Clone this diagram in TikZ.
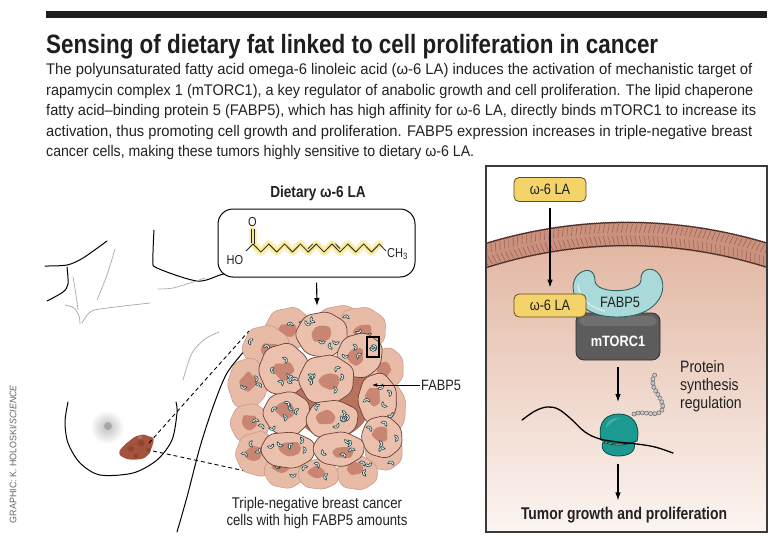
\documentclass[tikz,border=0pt]{standalone}
\usepackage{fontspec}
\setmainfont{Liberation Sans}
\newfontfamily\cond{Liberation Sans}[FakeStretch=0.85]
\usepackage{graphicx}
\usetikzlibrary{arrows.meta,decorations.pathmorphing,decorations.markings}

\definecolor{barc}{HTML}{1E1E1E}
\definecolor{txtc}{HTML}{222222}
\definecolor{panelc}{HTML}{3A3A3A}
\definecolor{membc}{HTML}{C9917E}
\definecolor{memedge}{HTML}{4A2C24}
\definecolor{stripec}{HTML}{A0604F}
\definecolor{cellTop}{HTML}{E2B7A3}
\definecolor{cellBot}{HTML}{FCF5F1}
\definecolor{yelc}{HTML}{F3D36A}
\definecolor{yeledge}{HTML}{5E4E1C}
\definecolor{fabc}{HTML}{A9DAD9}
\definecolor{fabedge}{HTML}{2F5F60}
\definecolor{mtorc}{HTML}{5C5C5C}
\definecolor{mtoredge}{HTML}{2E2E2E}
\definecolor{riboc}{HTML}{1A9A90}
\definecolor{riboedge}{HTML}{0B4A45}
\definecolor{beadc}{HTML}{C8C8C8}
\definecolor{cellOut}{HTML}{E8BBA7}
\definecolor{cellOutEdge}{HTML}{C49486}
\definecolor{cellIn}{HTML}{EBC0AC}
\definecolor{cellInEdge}{HTML}{6A4238}
\definecolor{nucc}{HTML}{C47C68}
\definecolor{backc}{HTML}{B8735F}
\definecolor{crc}{HTML}{DDF0F0}
\definecolor{credge}{HTML}{2A4647}
\definecolor{tumc}{HTML}{A4533F}
\definecolor{tumdark}{HTML}{7E3626}
\definecolor{glowc}{HTML}{F6E27A}
\definecolor{greyl}{HTML}{A8A8A8}

\newcommand\bl[2]{\resizebox{#1}{\height}{\fontsize{15.4}{18}\selectfont #2}}

\newcommand\tcell[7]{%
  \pgfmathsetseed{#6}%
  \draw[#5] plot[sharp cycle, samples=7, domain=0:308.5714] ({#1+0.67*#3*cos(\x+25)*(0.93+0.14*rnd)},{#2+0.67*#4*sin(\x+25)*(0.93+0.14*rnd)});
  \pgfmathsetmacro\nx{#1+(rnd-0.5)*0.3*#3}%
  \pgfmathsetmacro\ny{#2+(rnd-0.5)*0.3*#4}%
  \fill[nucc, opacity=0.85] plot[smooth cycle, samples=8, domain=0:315] ({\nx+0.23*#3*cos(\x)*(0.75+0.5*rnd)},{\ny+0.23*#4*sin(\x)*(0.75+0.5*rnd)});
  \foreach \k in {1,...,#7}{%
    \pgfmathsetmacro\px{#1+(rnd-0.5)*0.82*#3}%
    \pgfmathsetmacro\py{#2+(rnd-0.5)*0.82*#4}%
    \pgfmathsetmacro\pa{rnd*360}%
    \pic[rotate=\pa] at (\px,\py) {fab};
  }%
}

\begin{document}
\begin{tikzpicture}[x=1pt,y=-1pt,
  every node/.style={text=txtc, font=\cond\fontsize{15}{18}\selectfont},
  arr/.style={draw=black, line width=1.1pt, -{Latex[length=8pt,width=5.5pt]}},
  thinarr/.style={draw=black, line width=0.7pt, -{Latex[length=5pt,width=3.5pt]}},
  lbox/.style={draw=yeledge, fill=yelc, line width=0.8pt, rounded corners=5pt, minimum width=72pt, minimum height=24pt, inner sep=0pt},
  bodyline/.style={draw=black, line width=1pt, line cap=round},
  greyline/.style={draw=greyl, line width=0.7pt, line cap=round},
  outcell/.style={fill=cellOut, draw=cellOutEdge, line width=0.5pt, rounded corners=5pt},
  incell/.style={fill=cellIn, draw=cellInEdge, line width=0.7pt, rounded corners=6pt},
  fab/.pic={\draw[fill=crc, draw=credge, line width=0.6pt] (3.3pt,0pt) arc[start angle=0,end angle=180,radius=3.3pt] -- (-1.5pt,0pt) arc[start angle=180,end angle=0,radius=1.5pt] -- cycle;},
  ribo/.style={fill=riboc, draw=riboedge, line width=0.8pt}
]
\useasboundingbox (0,0) rectangle (781,547);
\fill[white] (0,0) rectangle (781,547);

% ---------- header ----------
\fill[barc] (46,11) rectangle (767,18);
\node[anchor=base west, inner sep=0pt, text=barc] (title) at (46,53)
  {\resizebox{612pt}{\height}{\fontsize{26.5}{30}\selectfont\bfseries Sensing of dietary fat linked to cell proliferation in cancer}};
\node[anchor=base west, inner sep=0pt] (b1) at (46,74.5) {\bl{706pt}{The polyunsaturated fatty acid omega-6 linoleic acid (ω-6 LA) induces the activation of mechanistic target of}};
\node[anchor=base west, inner sep=0pt] (b2) at (46,95) {\bl{707pt}{rapamycin complex 1 (mTORC1), a key regulator of anabolic growth and cell proliferation. The lipid chaperone}};
\node[anchor=base west, inner sep=0pt] (b3) at (46,115.5) {\bl{710pt}{fatty acid–binding protein 5 (FABP5), which has high affinity for ω-6 LA, directly binds mTORC1 to increase its}};
\node[anchor=base west, inner sep=0pt] (b4) at (46,136) {\bl{706pt}{activation, thus promoting cell growth and proliferation. FABP5 expression increases in triple-negative breast}};
\node[anchor=base west, inner sep=0pt] (b5) at (46,156.5) {\bl{428pt}{cancer cells, making these tumors highly sensitive to dietary ω-6 LA.}};

% ---------- credit ----------
\node[rotate=90, inner sep=0pt, text=black!60] (credit) at (13,454)
  {\resizebox{138pt}{\height}{\fontsize{9.5}{11}\selectfont GRAPHIC: K. HOLOSKI/\textit{SCIENCE}}};

% ---------- right panel ----------
\begin{scope}
  \clip (486,166) rectangle (767,532);
  \begin{scope}
    \clip (627,706) circle (460pt);
    \shade[top color=cellTop, bottom color=cellBot] (486,243) rectangle (767,532);
  \end{scope}
  \fill[membc, even odd rule] (627,706) circle (484pt) (627,706) circle (460pt);
  \foreach \a in {69,69.55,...,111}{
    \draw[stripec, line width=0.55pt] ([shift={(627,706)}]\a:462pt) -- ([shift={(627,706)}]{\a+0.25}:470.5pt);
    \draw[stripec, line width=0.55pt] ([shift={(627,706)}]{\a+0.25}:473.5pt) -- ([shift={(627,706)}]\a:482pt);
  }
  \draw[memedge, line width=0.9pt, decorate, decoration={bumps, segment length=3.6pt, amplitude=0.8pt}]
    ([shift={(627,706)}]65:484pt) arc[start angle=65, end angle=115, radius=484pt];
  \draw[memedge, line width=0.9pt, decorate, decoration={bumps, segment length=3.6pt, amplitude=0.8pt}]
    ([shift={(627,706)}]115:460pt) arc[start angle=115, end angle=65, radius=460pt];
\end{scope}
\draw[panelc, line width=1.5pt] (486,166) rectangle (767,532);

\node[lbox] (la1) at (550,189.5) {ω-6 LA};

% mTORC1
\node[draw=mtoredge, fill=mtorc, line width=0.8pt, rounded corners=8pt, minimum width=84pt, minimum height=47pt, inner sep=0pt] (mtor) at (618,336.5) {};
\fill[white, opacity=0.12, rounded corners=7pt] (579,316) rectangle (657,326);
\node[text=white, font=\cond\bfseries\fontsize{15}{18}\selectfont, inner sep=0pt] (mtortxt) at (618,341) {mTORC1};

% FABP5 crescent
\draw[fill=fabc, draw=fabedge, line width=0.9pt]
  (580,273) .. controls (566,282) and (571,317) .. (617,317)
  .. controls (663,317) and (670,284) .. (657,272)
  .. controls (650,266) and (640,270) .. (641,280)
  .. controls (641,293) and (596,295) .. (595,281)
  .. controls (595,270) and (587,268) .. (580,273) -- cycle;
\draw[white, opacity=0.5, line width=1.5pt, line cap=round] (578,285) .. controls (580,300) and (592,308) .. (605,311);
\node[inner sep=0pt] (fabtxt) at (620,302.5) {FABP5};

\node[lbox, minimum height=23pt] (la2) at (550,305.5) {ω-6 LA};
\draw[arr, shorten <=6pt, shorten >=6pt] (la1) -- (la2);

% ribosome
\coordinate (ribtop) at (618,402);
\coordinate (ribbot) at (618,464);
\draw[ribo] (603,442) .. controls (599,452) and (610,456) .. (618,456) .. controls (628,456) and (637,452) .. (634,442) .. controls (624,446) and (612,446) .. (603,442) -- cycle;
\draw[ribo] (601,440) .. controls (597,420) and (608,414) .. (619,414) .. controls (632,414) and (641,424) .. (637,441) .. controls (625,445) and (612,445) .. (601,440) -- cycle;
\fill[white, opacity=0.18] (606,428) .. controls (606,420) and (614,417) .. (620,418) .. controls (612,421) and (609,425) .. (606,428) -- cycle;
\draw[black, line width=1.3pt, line cap=round] plot[smooth, tension=0.6] coordinates {(522,420) (535,411) (547,407) (558,409) (570,418) (585,432) (600,439) (618,442) (637,444) (655,447) (673,453)};
\path[decoration={markings, mark=between positions 0 and 1 step 4.2pt with {\draw[fill=beadc, draw=black!65, line width=0.4pt] (0,0) circle (2.1pt);}}, postaction={decorate}]
  (634,414) .. controls (645,410) and (657,418) .. (662,410) .. controls (666,402) and (654,392) .. (653,384) .. controls (652,378) and (654,375) .. (657,373);

\draw[arr, shorten <=7pt] (mtor.south) -- (ribtop);
\node[anchor=base west, align=left, inner sep=0pt, font=\cond\fontsize{16.5}{18}\selectfont] (prot) at (680,408) {Protein\\synthesis\\regulation};
\node[anchor=base, inner sep=0pt] (tumor) at (624,519)
  {\resizebox{206pt}{\height}{\fontsize{17}{20}\selectfont\bfseries Tumor growth and proliferation}};
\draw[arr, shorten >=6pt] (ribbot) -- (ribbot |- tumor.north);

% ---------- left: body outline ----------
\draw[bodyline] plot[smooth] coordinates {(45,266) (67,265) (83,258) (107,241)};
\draw[bodyline] plot[smooth] coordinates {(67,267) (68,284) (63,292) (47,301)};
\draw[greyline] plot[smooth] coordinates {(73,277) (76,295) (78,310)};
\draw[greyline] plot[smooth] coordinates {(115,249) (107,275) (97,300)};
\draw[greyline] plot[smooth] coordinates {(65,305) (74,308) (79,316) (80,324)};
\draw[greyline] plot[smooth] coordinates {(82,323) (89,313) (100,309) (150,303)};
\draw[bodyline] plot[smooth, tension=0.5] coordinates {(154,230) (153,260) (157,268) (197,281) (220,275) (227,273)};
\draw[greyline] plot[smooth] coordinates {(158,289) (173,288) (193,282) (205,278)};
\draw[greyline] plot[smooth] coordinates {(183,380) (192,353) (205,339) (219,332)};
\draw[bodyline] plot[smooth] coordinates {(68,402) (65,422) (68,443) (80,463) (100,475) (133,473) (157,460) (172,440) (177,413) (176,402)};
\draw[bodyline] plot[smooth] coordinates {(177,532) (187,497) (200,447) (213,407) (227,373) (247,348)};

% nipple
\shade[inner color=black!25, outer color=white] (107,427) circle (17pt);
\fill[black!40, opacity=0.7] (108,426) circle (4pt);

% tumor
\pgfmathsetseed{11}
\fill[tumc] plot[smooth cycle, samples=14, domain=0:334.3] ({137+17*cos(\x)*(0.85+0.3*rnd)+3*sin(\x)*sin(\x)},{447+12*sin(\x)*(0.85+0.3*rnd)-4*cos(\x)});
\fill[tumdark, opacity=0.45] (131,449) circle (3pt) (141,443) circle (3.5pt) (148,450) circle (2.5pt) (136,456) circle (2.5pt);
\fill[white, opacity=0.18] (127,440) circle (2.5pt) (140,437) circle (2pt);

% dashed zoom lines
\draw[black, line width=0.9pt, dash pattern=on 4pt off 3pt] (149,443) -- (249,331);
\draw[black, line width=0.9pt, dash pattern=on 4pt off 3pt] (153,451) -- (264,475);

% ---------- molecule box ----------
\node[font=\cond\bfseries\fontsize{16}{18}\selectfont, inner sep=0pt] (diet) at (318,193) {Dietary ω-6 LA};
\node[draw=black, line width=1pt, rounded corners=15pt, minimum width=197pt, minimum height=68pt, inner sep=0pt, fill=white] (mol) at (316.5,243) {};
\draw[glowc, opacity=0.45, line width=8pt, line join=round, line cap=round] plot[samples=17, domain=0:16] ({253+7.9*\x},{244+8*mod(round(\x),2)}) (253,244) -- (253,230);
\draw[glowc, opacity=0.7, line width=4pt, line join=round, line cap=round] plot[samples=17, domain=0:16] ({253+7.9*\x},{244+8*mod(round(\x),2)}) (253,244) -- (253,230);
\draw[black!85, line width=0.8pt, line join=round] plot[samples=17, domain=0:16] ({253+7.9*\x},{244+8*mod(round(\x),2)}) -- (386,251);
\draw[black!85, line width=0.8pt] (251.6,243) -- (251.6,229) (254.4,244) -- (254.4,229);
\draw[black!85, line width=0.8pt] (253,244) -- (246,251);
\draw[black!85, line width=0.8pt] (308.1,248.6) -- (312.8,243.8) (335.4,243.8) -- (340.1,248.6);
\node[font=\cond\fontsize{13}{15}\selectfont, inner sep=0pt] (oxy) at (252.5,222) {O};
\node[font=\cond\fontsize{13}{15}\selectfont, inner sep=0pt] (ho) at (235,260) {HO};
\node[font=\cond\fontsize{13}{15}\selectfont, inner sep=0pt, anchor=west] (ch3) at (387,254) {CH\textsubscript{3}};

% ---------- cell cluster ----------
\coordinate (cl) at (317,306);
\draw[arr, shorten <=5pt] (mol.south) -- (cl);

\tcell{340}{320}{38}{22}{outcell}{31}{2}
\tcell{290}{329}{38}{32}{outcell}{1}{3}
\tcell{362}{330}{40}{36}{outcell}{2}{3}
\tcell{266}{349}{36}{36}{outcell}{3}{3}
\tcell{387}{368}{28}{34}{outcell}{4}{2}
\tcell{248}{384}{32}{42}{outcell}{5}{3}
\tcell{393}{410}{20}{40}{outcell}{6}{2}
\tcell{250}{423}{32}{32}{outcell}{7}{2}
\tcell{384}{452}{30}{30}{outcell}{8}{3}
\tcell{258}{454}{36}{34}{outcell}{9}{3}
\tcell{357}{473}{34}{28}{outcell}{10}{3}
\tcell{285}{471}{34}{28}{outcell}{11}{3}
\tcell{318}{475}{34}{24}{outcell}{12}{3}

\fill[backc] (332,398) ellipse (40pt and 40pt);

\tcell{322}{334}{40}{36}{incell}{21}{5}
\tcell{360}{356}{36}{36}{incell}{22}{5}
\tcell{284}{370}{40}{40}{incell}{23}{6}
\tcell{327}{380}{44}{40}{incell}{24}{6}
\tcell{378}{400}{32}{42}{incell}{25}{5}
\tcell{287}{413}{38}{36}{incell}{26}{6}
\tcell{332}{420}{42}{31}{incell}{27}{6}
\tcell{382}{437}{34}{32}{incell}{28}{5}
\tcell{288}{450}{44}{29}{incell}{29}{5}
\tcell{338}{449}{42}{27}{incell}{30}{5}

\draw[black, line width=1.2pt] (367,337) rectangle (379,357);
\pic[rotate=180] at (373,348) {fab};

\node[anchor=west, inner sep=0pt] (fablab) at (421,385) {FABP5};
\coordinate (fabtgt) at (372,385);
\draw[thinarr, shorten <=1pt] (fablab.west) -- (fabtgt);

\node[align=center, inner sep=0pt, font=\cond\fontsize{15.5}{17.5}\selectfont] (cap) at (317,513) {Triple-negative breast cancer\\cells with high FABP5 amounts};
\end{tikzpicture}
\end{document}
